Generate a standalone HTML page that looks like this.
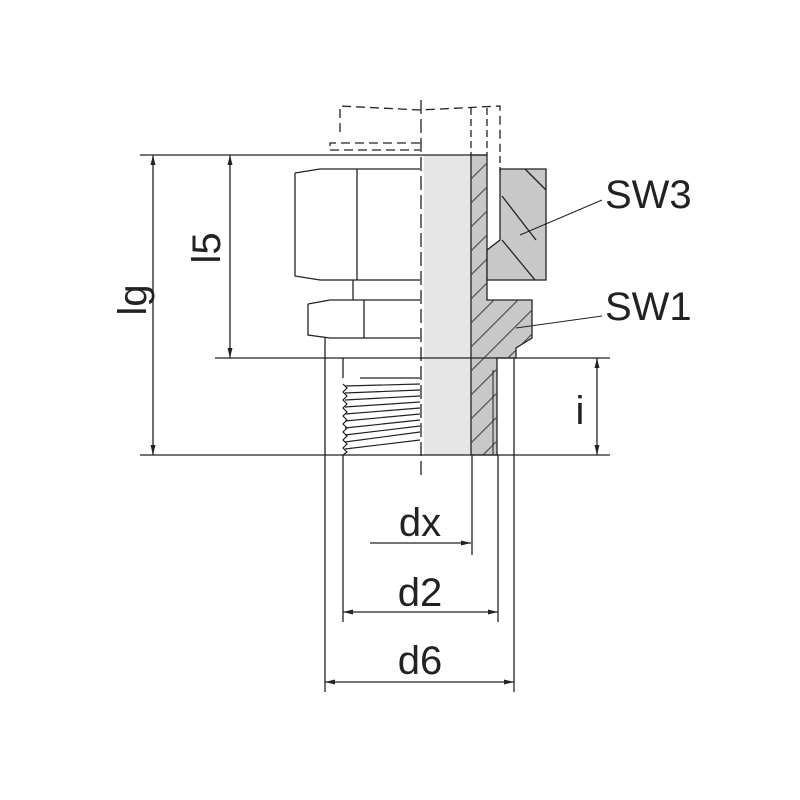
<!DOCTYPE html>
<html><head><meta charset="utf-8"><style>html,body{margin:0;padding:0;background:#fff}svg{display:block}</style></head>
<body>
<svg width="800" height="800" viewBox="0 0 800 800" xmlns="http://www.w3.org/2000/svg" font-family="Liberation Sans, sans-serif" fill="none" stroke="#222" stroke-width="1.3">
<defs>
<marker id="a" viewBox="0 0 10 6" refX="10" refY="3" markerWidth="10" markerHeight="6" orient="auto-start-reverse" markerUnits="userSpaceOnUse"><path d="M0,0.5 L10,3 L0,5.5z" fill="#222" stroke="none"/></marker>
<clipPath id="c"><path d="M471,155 L487,155 L487,300 L532,300 L532,338 L516,348 L516,358 L497,358 L497,455 L471,455 Z"/></clipPath>
</defs>
<!-- tube -->
<rect x="424" y="155" width="47" height="300" fill="#e6e6e6" stroke="none"/>
<!-- body section -->
<path d="M471,155 L487,155 L487,300 L532,300 L532,338 L516,348 L516,358 L497,358 L497,455 L471,455 Z" fill="#c8c8c8"/>
<g clip-path="url(#c)" stroke="#444" stroke-width="1.1">
<path d="M460,190 L520,130 M460,214 L520,154 M460,238 L520,178 M460,262 L520,202 M460,286 L520,226 M460,310 L520,250 M460,334 L540,254 M460,358 L540,278 M460,382 L540,302 M460,406 L540,326 M460,430 L540,350 M460,454 L540,374 M460,478 L540,398 M460,502 L540,422"/>
</g>
<line x1="493" y1="370" x2="493" y2="455" stroke-width="1"/>
<!-- SW3 nut section -->
<path d="M500,169 L546,169 L546,280 L487,280 L487,250 L500,240 Z" fill="#c8c8c8"/>
<line x1="525" y1="169" x2="546" y2="190"/><line x1="502" y1="196" x2="536" y2="240"/><line x1="502" y1="240" x2="535" y2="280"/>
<!-- dashed top -->
<path d="M340,132 L340,106 L420,110 L500,106 L500,145" stroke-dasharray="9,5"/>
<path d="M330,146 L330,143 L420,143 M330,150 L420,150" stroke-dasharray="9,5"/>
<path d="M471,108 L471,155 M487,108 L487,155 M500,145 L500,172" stroke-dasharray="7,4"/>
<line x1="421" y1="100" x2="421" y2="480" stroke-dasharray="14,5"/>
<!-- main lines -->
<line x1="140" y1="155" x2="487" y2="155"/>
<line x1="215" y1="358" x2="610" y2="358"/>
<line x1="140" y1="455" x2="610" y2="455"/>
<!-- left hex nuts -->
<path d="M295,173 L320,169 L420,169 M295,173 L295,276 L320,280 L420,280 M357,169 L357,280"/>
<path d="M353,280 L353,300"/>
<path d="M308,304 L330,300 L420,300 M308,304 L308,335 L330,338 L420,338 M364,300 L364,338"/>
<!-- thread -->
<path d="M343,358 L343,378 M360,378 L420,378"/>
<g stroke-width="1.2">
<path d="M345,386 L420,384 M345,393 L420,390 M345,400 L420,396 M345,407 L420,402 M345,414 L420,408 M345,421 L420,414 M345,428 L420,420 M345,435 L420,426 M345,442 L420,432 M345,449 L420,440"/>
<path d="M343,384 L347,388 L343,392 L347,396 L343,400 L347,404 L343,408 L347,412 L343,416 L347,420 L343,424 L347,428 L343,432 L347,436 L343,440 L347,444 L343,448 L347,452 L343,455"/>
</g>
<!-- extension lines -->
<line x1="325" y1="338" x2="325" y2="692"/>
<line x1="343" y1="455" x2="343" y2="622"/>
<line x1="498" y1="455" x2="498" y2="622"/>
<line x1="514" y1="358" x2="514" y2="692"/>
<line x1="472" y1="455" x2="472" y2="555"/>
<!-- dims -->
<line x1="153" y1="155" x2="153" y2="455" marker-start="url(#a)" marker-end="url(#a)"/>
<line x1="230" y1="155" x2="230" y2="358" marker-start="url(#a)" marker-end="url(#a)"/>
<line x1="597" y1="358" x2="597" y2="455" marker-start="url(#a)" marker-end="url(#a)"/>
<line x1="370" y1="543" x2="471" y2="543" marker-end="url(#a)"/>
<line x1="343" y1="612" x2="498" y2="612" marker-start="url(#a)" marker-end="url(#a)"/>
<line x1="325" y1="682" x2="514" y2="682" marker-start="url(#a)" marker-end="url(#a)"/>
<!-- leaders -->
<line x1="520" y1="235" x2="602" y2="200" stroke-width="1"/>
<line x1="516" y1="328" x2="602" y2="316" stroke-width="1"/>
<g fill="#222" stroke="none" font-size="40">
<text x="420" y="536" text-anchor="middle">dx</text>
<text x="420" y="606" text-anchor="middle">d2</text>
<text x="420" y="674" text-anchor="middle">d6</text>
<text x="605" y="208">SW3</text>
<text x="605" y="320">SW1</text>
<text x="580" y="424" text-anchor="middle">i</text>
<text transform="translate(146,300) rotate(-90)" text-anchor="middle">lg</text>
<text transform="translate(220,248) rotate(-90)" text-anchor="middle">l5</text>
</g>
</svg>
</body></html>
